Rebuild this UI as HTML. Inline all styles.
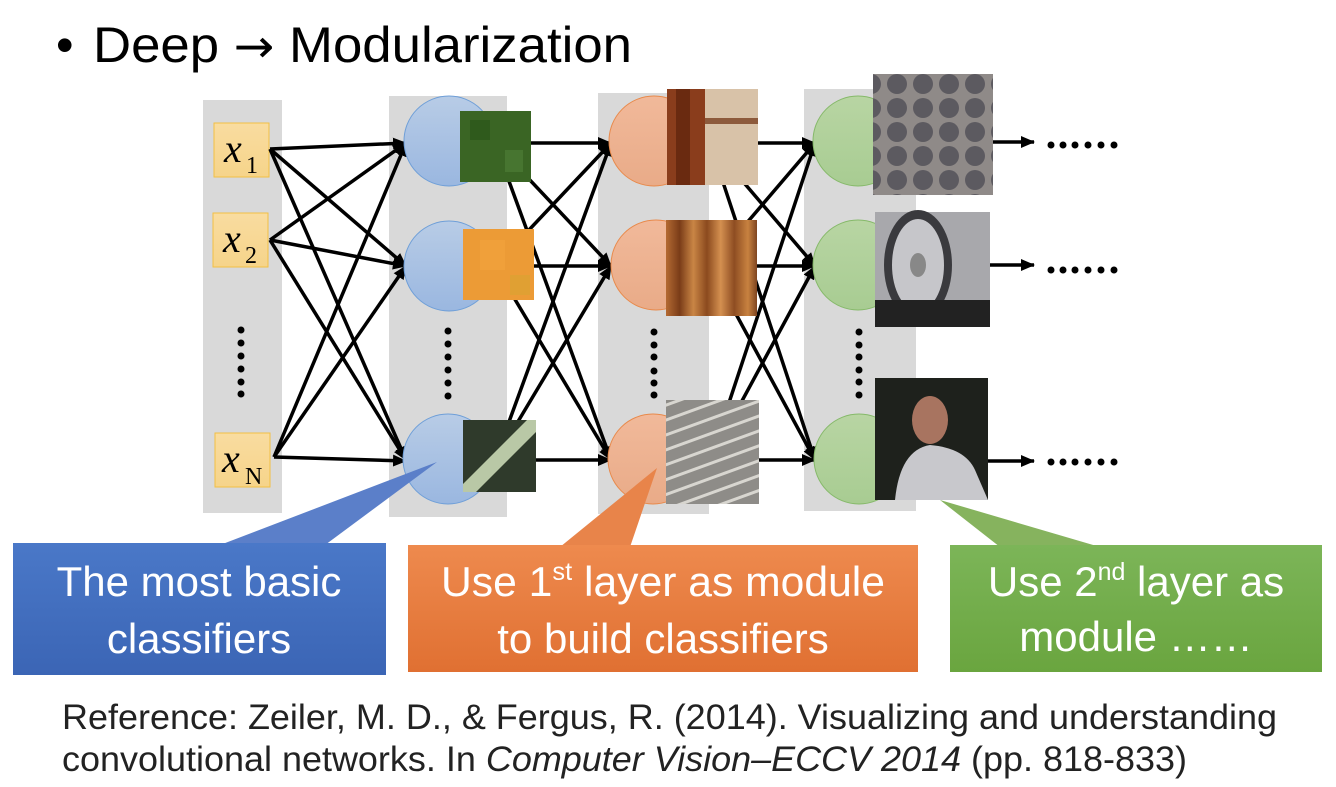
<!DOCTYPE html>
<html><head><meta charset="utf-8"><style>
body{margin:0;background:#fff;width:1336px;height:787px;overflow:hidden}
svg{display:block}
</style></head><body>
<svg width="1336" height="787" viewBox="0 0 1336 787" font-family="Liberation Sans, sans-serif">
<defs>
<marker id="ah" markerWidth="14" markerHeight="12" refX="13" refY="6" orient="auto" markerUnits="userSpaceOnUse" viewBox="0 0 14 12"><path d="M0,0 L14,6 L0,12 z" fill="#000"/></marker>
<linearGradient id="gb" x1="0" y1="0" x2="0" y2="1"><stop offset="0" stop-color="#b8cce6"/><stop offset="1" stop-color="#9ab7e0"/></linearGradient>
<linearGradient id="go" x1="0" y1="0" x2="0" y2="1"><stop offset="0" stop-color="#f1b99a"/><stop offset="1" stop-color="#e9ab88"/></linearGradient>
<linearGradient id="gg" x1="0" y1="0" x2="0" y2="1"><stop offset="0" stop-color="#b8d5a3"/><stop offset="1" stop-color="#a8cc92"/></linearGradient>
<linearGradient id="bx" x1="0" y1="0" x2="0" y2="1"><stop offset="0" stop-color="#f9dca0"/><stop offset="1" stop-color="#f6d48a"/></linearGradient>
<linearGradient id="cb" x1="0" y1="0" x2="0" y2="1"><stop offset="0" stop-color="#4a78c8"/><stop offset="1" stop-color="#3b65b5"/></linearGradient>
<linearGradient id="co" x1="0" y1="0" x2="0" y2="1"><stop offset="0" stop-color="#ee8a4e"/><stop offset="1" stop-color="#e07032"/></linearGradient>
<linearGradient id="cg" x1="0" y1="0" x2="0" y2="1"><stop offset="0" stop-color="#7cb558"/><stop offset="1" stop-color="#6aa53f"/></linearGradient>
<linearGradient id="wood" x1="0" y1="0" x2="1" y2="0"><stop offset="0" stop-color="#b46a32"/><stop offset=".15" stop-color="#7a3c18"/><stop offset=".3" stop-color="#c98545"/><stop offset=".45" stop-color="#8b4a1e"/><stop offset=".6" stop-color="#d49050"/><stop offset=".75" stop-color="#8e4d22"/><stop offset=".9" stop-color="#c88240"/><stop offset="1" stop-color="#7e4420"/></linearGradient>
<pattern id="hex" width="26" height="24" patternUnits="userSpaceOnUse"><rect width="26" height="24" fill="#8f8a88"/><circle cx="13" cy="12" r="10" fill="#5c5a60"/></pattern>
<pattern id="str" width="20" height="14" patternUnits="userSpaceOnUse" patternTransform="rotate(-20)"><rect width="20" height="14" fill="#8e8c88"/><rect y="5" width="20" height="3" fill="#d8d6d0"/></pattern>
</defs>

<text x="56" y="62" font-size="50" fill="#000">•</text>
<text x="93" y="62" font-size="50" fill="#000" textLength="539" lengthAdjust="spacingAndGlyphs">Deep <tspan font-family="DejaVu Sans, sans-serif" font-size="46">→</tspan> Modularization</text>

<rect x="203" y="100" width="79" height="413" fill="#d9d9d9"/>
<rect x="389" y="96" width="118" height="421" fill="#d9d9d9"/>
<rect x="598" y="93" width="111" height="421" fill="#d9d9d9"/>
<rect x="804" y="89" width="112" height="422" fill="#d9d9d9"/>

<g stroke="#f2c044" stroke-width="1" fill="url(#bx)">
<rect x="214" y="123" width="55" height="54"/>
<rect x="213" y="213" width="55" height="54"/>
<rect x="215" y="433" width="55" height="54"/>
</g>
<g font-family="Liberation Serif, serif" fill="#000">
<text x="224" y="162" font-size="40" font-style="italic">x</text><text x="246" y="173" font-size="24">1</text>
<text x="223" y="252" font-size="40" font-style="italic">x</text><text x="245" y="263" font-size="24">2</text>
<text x="222" y="472" font-size="40" font-style="italic">x</text><text x="245" y="484" font-size="24">N</text>
</g>
<g fill="#000">
<circle cx="241" cy="330" r="3.5"/><circle cx="241" cy="343" r="3.5"/><circle cx="241" cy="356" r="3.5"/><circle cx="241" cy="369" r="3.5"/><circle cx="241" cy="382" r="3.5"/><circle cx="241" cy="394" r="3.5"/>
<circle cx="448" cy="331" r="3.5"/><circle cx="448" cy="344" r="3.5"/><circle cx="448" cy="357" r="3.5"/><circle cx="448" cy="370" r="3.5"/><circle cx="448" cy="383" r="3.5"/><circle cx="448" cy="396" r="3.5"/>
<circle cx="654" cy="332" r="3.5"/><circle cx="654" cy="345" r="3.5"/><circle cx="654" cy="357" r="3.5"/><circle cx="654" cy="371" r="3.5"/><circle cx="654" cy="383" r="3.5"/><circle cx="654" cy="395" r="3.5"/>
<circle cx="859" cy="332" r="3.5"/><circle cx="859" cy="345" r="3.5"/><circle cx="859" cy="357" r="3.5"/><circle cx="859" cy="370" r="3.5"/><circle cx="859" cy="382" r="3.5"/><circle cx="859" cy="395" r="3.5"/>
</g>

<g stroke="#000" stroke-width="3.5" marker-end="url(#ah)" fill="none">
<line x1="270" y1="149" x2="406" y2="143"/><line x1="270" y1="149" x2="406" y2="266"/><line x1="270" y1="149" x2="406" y2="460"/>
<line x1="270" y1="240" x2="406" y2="143"/><line x1="270" y1="240" x2="406" y2="266"/><line x1="270" y1="240" x2="406" y2="460"/>
<line x1="274" y1="457" x2="406" y2="143"/><line x1="274" y1="457" x2="406" y2="266"/><line x1="274" y1="457" x2="406" y2="461"/>
<line x1="495" y1="143" x2="611" y2="143"/><line x1="495" y1="143" x2="611" y2="266"/><line x1="495" y1="143" x2="611" y2="460"/>
<line x1="495" y1="266" x2="611" y2="143"/><line x1="495" y1="266" x2="611" y2="266"/><line x1="495" y1="266" x2="611" y2="460"/>
<line x1="495" y1="460" x2="611" y2="143"/><line x1="495" y1="460" x2="611" y2="266"/><line x1="495" y1="460" x2="611" y2="460"/>
<line x1="710" y1="143" x2="815" y2="143"/><line x1="710" y1="143" x2="815" y2="266"/><line x1="710" y1="143" x2="815" y2="460"/>
<line x1="710" y1="266" x2="815" y2="143"/><line x1="710" y1="266" x2="815" y2="266"/><line x1="710" y1="266" x2="815" y2="460"/>
<line x1="710" y1="460" x2="815" y2="143"/><line x1="710" y1="460" x2="815" y2="266"/><line x1="710" y1="460" x2="815" y2="460"/>
</g>
<g stroke="#000" stroke-width="3.5" marker-end="url(#ah)">
<line x1="993" y1="142" x2="1034" y2="142"/><line x1="990" y1="265" x2="1034" y2="265"/><line x1="988" y1="461" x2="1034" y2="461"/>
</g>
<g fill="#000">
<g transform="translate(0,145)"><circle cx="1051" cy="0" r="3.5"/><circle cx="1063" cy="0" r="3.5"/><circle cx="1075" cy="0" r="3.5"/><circle cx="1088" cy="0" r="3.5"/><circle cx="1101" cy="0" r="3.5"/><circle cx="1114" cy="0" r="3.5"/></g>
<g transform="translate(0,270)"><circle cx="1051" cy="0" r="3.5"/><circle cx="1063" cy="0" r="3.5"/><circle cx="1075" cy="0" r="3.5"/><circle cx="1088" cy="0" r="3.5"/><circle cx="1101" cy="0" r="3.5"/><circle cx="1114" cy="0" r="3.5"/></g>
<g transform="translate(0,462)"><circle cx="1051" cy="0" r="3.5"/><circle cx="1063" cy="0" r="3.5"/><circle cx="1075" cy="0" r="3.5"/><circle cx="1088" cy="0" r="3.5"/><circle cx="1101" cy="0" r="3.5"/><circle cx="1114" cy="0" r="3.5"/></g>
</g>

<g stroke="#6f9fd8" fill="url(#gb)"><circle cx="449" cy="141" r="45"/><circle cx="449" cy="266" r="45"/><circle cx="448" cy="459" r="45"/></g>
<g stroke="#e88a4c" fill="url(#go)"><circle cx="654" cy="141" r="45"/><circle cx="656" cy="265" r="45"/><circle cx="653" cy="459" r="45"/></g>
<g stroke="#86b96a" fill="url(#gg)"><circle cx="858" cy="141" r="45"/><circle cx="858" cy="265" r="45"/><circle cx="859" cy="459" r="45"/></g>

<rect x="460" y="111" width="71" height="71" fill="#3a6524"/>
<rect x="470" y="120" width="20" height="20" fill="#2f5a1c"/><rect x="505" y="150" width="18" height="22" fill="#477530"/>
<rect x="463" y="229" width="71" height="71" fill="#ec9b36"/>
<rect x="480" y="240" width="25" height="30" fill="#f0a03a"/><rect x="510" y="275" width="20" height="20" fill="#e0a033"/>
<rect x="463" y="420" width="73" height="72" fill="#2f3a2b"/>
<polygon points="463,492 476,492 536,432 536,420 527,420 463,484" fill="#b9c8a6"/>
<rect x="667" y="89" width="91" height="96" fill="#d8c2a8"/>
<rect x="667" y="89" width="38" height="96" fill="#8a3d1c"/><rect x="676" y="89" width="14" height="96" fill="#6a2a10"/>
<rect x="705" y="118" width="53" height="6" fill="#8d5a3c"/>
<rect x="666" y="220" width="91" height="96" fill="url(#wood)"/>
<rect x="666" y="400" width="93" height="104" fill="url(#str)"/>
<rect x="873" y="74" width="120" height="121" fill="url(#hex)"/>
<rect x="875" y="212" width="115" height="115" fill="#a8a8ac"/>
<ellipse cx="918" cy="265" rx="34" ry="55" fill="#3a3a3e"/><ellipse cx="918" cy="265" rx="26" ry="46" fill="#c6c6ca"/><ellipse cx="918" cy="265" rx="8" ry="12" fill="#888"/>
<rect x="875" y="300" width="115" height="27" fill="#222"/>
<rect x="875" y="378" width="113" height="122" fill="#1e211c"/>
<ellipse cx="930" cy="420" rx="18" ry="24" fill="#a87460"/>
<path d="M895,500 Q900,450 930,445 Q965,448 975,470 L988,500 Z" fill="#c8c8cc"/>

<polygon points="220,545 325,545 437,462" fill="#5b7fc9"/>
<rect x="13" y="543" width="373" height="132" fill="url(#cb)"/>
<polygon points="560,547 630,547 657,468" fill="#e8844a"/>
<rect x="408" y="545" width="510" height="127" fill="url(#co)"/>
<polygon points="1000,547 1100,547 940,500" fill="#86b35e"/>
<rect x="950" y="545" width="372" height="127" fill="url(#cg)"/>

<g fill="#fff" font-size="42" text-anchor="middle">
<text x="199" y="596">The most basic</text>
<text x="199" y="653">classifiers</text>
<text x="663" y="596" textLength="444" lengthAdjust="spacingAndGlyphs">Use 1<tspan font-size="25" dy="-16">st</tspan><tspan dy="16"> layer as module</tspan></text>
<text x="663" y="653">to build classifiers</text>
<text x="1136" y="596">Use 2<tspan font-size="25" dy="-16">nd</tspan><tspan dy="16"> layer as</tspan></text>
<text x="1136" y="651">module ……</text>
</g>

<g font-size="35" fill="#222">
<text x="62" y="729" textLength="1215" lengthAdjust="spacingAndGlyphs">Reference: Zeiler, M. D., &amp; Fergus, R. (2014). Visualizing and understanding</text>
<text x="62" y="771" textLength="1125" lengthAdjust="spacingAndGlyphs">convolutional networks. In <tspan font-style="italic">Computer Vision–ECCV 2014</tspan> (pp. 818-833)</text>
</g>
</svg>
</body></html>
